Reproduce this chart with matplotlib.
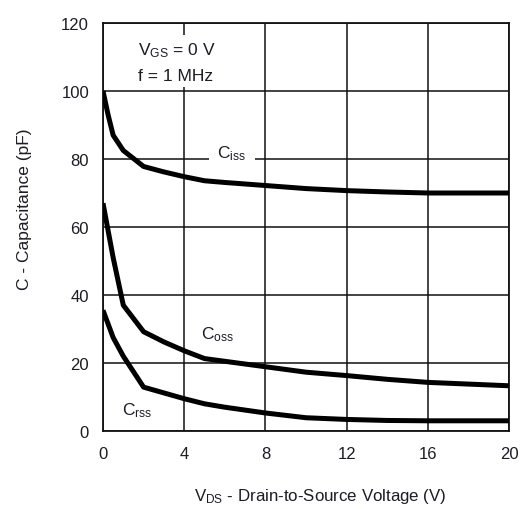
import matplotlib
matplotlib.use("Agg")
import matplotlib.pyplot as plt

plt.rcParams['font.family'] = ['Liberation Sans', 'DejaVu Sans']
plt.rcParams['mathtext.fontset'] = 'custom'
plt.rcParams['mathtext.rm'] = 'Liberation Sans'
plt.rcParams['mathtext.it'] = 'Liberation Sans'

TEXT = '#1c1c24'

# Capacitance vs drain-source voltage (VGS = 0 V, f = 1 MHz)
vds = [0, 0.25, 0.5, 1, 2, 3, 4, 5, 6, 8, 10, 12, 14, 16, 18, 20]
ciss = [100, 93, 87, 82.5, 77.8, 76.2, 74.8, 73.6, 73.1, 72.2, 71.3, 70.7, 70.3, 70.0, 70.0, 70.0]
coss = [67, 59, 51, 37, 29.2, 26.2, 23.6, 21.3, 20.5, 18.9, 17.3, 16.3, 15.2, 14.3, 13.8, 13.3]
crss = [35.5, 31.5, 27.5, 22.0, 12.9, 11.2, 9.5, 8.0, 7.0, 5.3, 3.9, 3.4, 3.1, 3.0, 3.0, 3.0]

x_ticks = [0, 4, 8, 12, 16, 20]
y_ticks = [0, 20, 40, 60, 80, 100, 120]

fig = plt.figure(figsize=(5.25, 5.10), dpi=100)
ax = fig.add_axes([103 / 525, 1 - 432 / 510, 406 / 525, 408 / 510])

for series in (ciss, coss, crss):
    ax.plot(vds, series, color='black', lw=3.6, solid_capstyle='butt',
            solid_joinstyle='round', zorder=3)

ax.set_xlim(0, 20)
ax.set_ylim(0, 120)
ax.set_xticks(x_ticks)
ax.set_yticks(y_ticks)
ax.grid(True, color='#111111', lw=1.1, zorder=1)
ax.tick_params(length=0, labelsize=12, colors=TEXT, pad=10)
ax.tick_params(axis='x', pad=11)
for sp in ax.spines.values():
    sp.set_color('#111111')
    sp.set_linewidth(1.3)

ax.set_xlabel(r'$\mathrm{V_{DS}}$ - Drain-to-Source Voltage (V)', fontsize=12.2, color=TEXT)
ax.xaxis.set_label_coords(0.535, -0.136)
ax.set_ylabel('C - Capacitance (pF)', fontsize=12.5, color=TEXT)
ax.yaxis.set_label_coords(-0.176, 0.547)

box = dict(facecolor='white', edgecolor='none', pad=2.5)
ax.text(1.72, 108.6, r'$\mathrm{V_{GS}}$ = 0 V' + '\n' + 'f = 1 MHz', fontsize=12.5,
        color=TEXT, ha='left', va='center', linespacing=1.8, bbox=box, zorder=4)
ax.text(6.35, 81.8, r'$\mathrm{C_{iss}}$', fontsize=12.5, color=TEXT,
        ha='center', va='center', bbox=dict(facecolor='white', edgecolor='none', pad=6), zorder=4)
ax.text(5.65, 28.5, r'$\mathrm{C_{oss}}$', fontsize=12.5, color=TEXT,
        ha='center', va='center', zorder=4)
ax.text(1.68, 6.3, r'$\mathrm{C_{rss}}$', fontsize=12.5, color=TEXT,
        ha='center', va='center', zorder=4)

fig.savefig('out.png', dpi=100)
